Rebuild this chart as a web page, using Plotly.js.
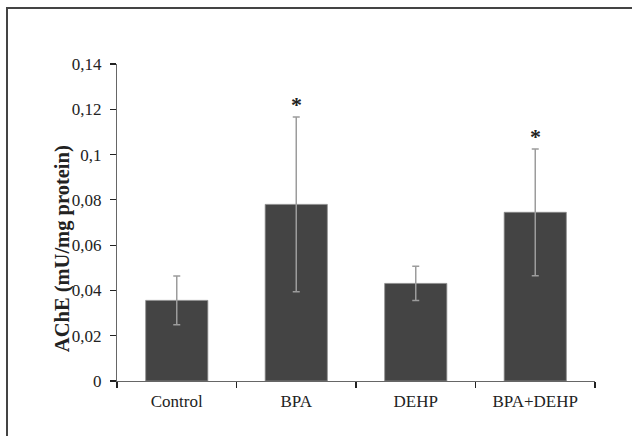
<!DOCTYPE html>
<html>
<head>
<meta charset="utf-8">
<script src="https://cdn.plot.ly/plotly-3.0.1.min.js"></script>
<style>
  html, body { margin: 0; padding: 0; background: #fff; }
  #wrap { position: relative; width: 632px; height: 436px; overflow: hidden; }
  #frame { position: absolute; left: 6px; top: 7px; width: 640px; height: 440px;
           border-top: 2px solid #444; border-left: 2px solid #444; box-sizing: border-box; pointer-events: none; }
  #chart { position: absolute; left: 0; top: 0; width: 632px; height: 436px; }
</style>
</head>
<body>
<div id="wrap">
  <div id="chart"></div>
  <div id="frame"></div>
</div>
<script>
const categories = ['Control', 'BPA', 'DEHP', 'BPA+DEHP'];
const means = [0.0356, 0.078, 0.0431, 0.0745];
const errors = [0.0108, 0.0386, 0.0076, 0.028];
const significant = [false, true, false, true];
const yTicks = [0, 0.02, 0.04, 0.06, 0.08, 0.1, 0.12, 0.14];
const yTitle = 'AChE (mU/mg protein)';

const serif = '"Liberation Serif", "Times New Roman", serif';

const trace = {
  type: 'bar',
  x: categories,
  y: means,
  marker: { color: '#444444', line: { color: '#8a8a8a', width: 0.8 } },
  error_y: { type: 'data', array: errors, visible: true, color: '#9c9c9c', thickness: 1.5, width: 3.5 },
  hoverinfo: 'none'
};

const annotations = categories.map((c, i) => significant[i] ? {
  x: c, y: means[i] + errors[i], xref: 'x', yref: 'y',
  text: '<b>*</b>', showarrow: false, yanchor: 'bottom', yshift: -2,
  font: { family: serif, size: 22, color: '#222' }
} : null).filter(a => a);

annotations.push({
  xref: 'paper', yref: 'paper', x: 0, y: 0.416, xanchor: 'center', yanchor: 'middle',
  xshift: -55, textangle: -90, showarrow: false,
  text: '<b>' + yTitle + '</b>',
  font: { family: serif, size: 20.5, color: '#222' }
});

const layout = {
  width: 632, height: 436,
  margin: { l: 117, r: 37, t: 64, b: 55 },
  paper_bgcolor: '#fff', plot_bgcolor: '#fff',
  separators: ',.',
  showlegend: false,
  bargap: 0.48,
  font: { family: serif, size: 17, color: '#222' },
  xaxis: {
    type: 'category',
    showline: true, linecolor: '#666', linewidth: 1,
    ticks: 'outside', tickson: 'boundaries', ticklen: 6, tickcolor: '#222', tickwidth: 1.2,
    showgrid: false, zeroline: false, ticklabelstandoff: 5,
    tickfont: { family: serif, size: 17, color: '#222' }
  },
  yaxis: {
    range: [0, 0.14],
    tickvals: yTicks,
    showline: true, linecolor: '#666', linewidth: 1,
    ticks: 'outside', ticklen: 6, tickcolor: '#222', tickwidth: 1.2,
    showgrid: false, zeroline: false, ticklabelstandoff: 5,
    tickfont: { family: serif, size: 17, color: '#222' }
  },
  annotations: annotations
};

Plotly.newPlot('chart', [trace], layout, { displayModeBar: false, staticPlot: true });
</script>
</body>
</html>
